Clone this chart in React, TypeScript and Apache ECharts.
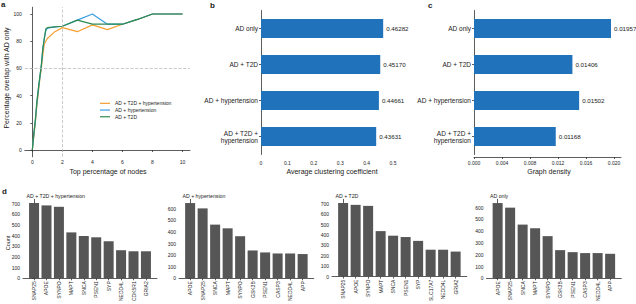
import React, { useEffect, useRef } from "react";
import * as echarts from "echarts";

// ---- Panel a data ----
const topPct = [0, 0.1, 0.2, 0.3, 0.4, 0.5, 0.6, 0.7, 0.8, 0.9, 1, 1.5, 2, 3, 4, 5, 6, 7, 8, 9, 10];
const overlapT2dHyp = [0, 10, 20, 32, 42, 52, 60, 70, 78, 80, 82, 87, 90, 87, 92, 88.5, 92.5, 96, 100, 100, 100];
const overlapHyp = [0, 11, 21, 34, 44, 53, 62, 74, 82, 88, 89.5, 90.5, 91, 95.5, 100, 92.5, 92.5, 96, 100, 100, 100];
const overlapT2d = [0, 12, 22, 35, 45, 54, 62, 75, 82, 89, 90, 90.5, 91, 95.5, 92.5, 92.5, 92.5, 96, 100, 100, 100];
const seriesNamesA = ["AD + T2D + hypertension", "AD + hypertension", "AD + T2D"];
const xTicksA = [0, 2, 4, 6, 8, 10];
const yTicksA = [0, 20, 40, 60, 80, 100];

// ---- Panels b, c ----
const conditions = ["AD only", "AD + T2D", "AD + hypertension", "AD + T2D +\nhypertension"];
const clustering = [0.46282, 0.4517, 0.44661, 0.43631];
const density = [0.01957, 0.01406, 0.01502, 0.01168];
const densityTicks = [0, 0.004, 0.008, 0.012, 0.016, 0.02];

// ---- Panel d ----
const dTitles = ["AD + T2D + hypertension", "AD + hypertension", "AD + T2D", "AD only"];
const genesD1 = ["SNAP25", "APOE", "SYNPO", "MAPT", "SNCA", "PSEN1", "SYP", "NEDD4L", "CDK5R1", "GRIA2"];
const countsD1 = [705, 683, 670, 430, 396, 384, 347, 263, 253, 253];
const genesD2 = ["APOE", "SNAP25", "SNCA", "MAPT", "SYNPO", "GSK3B", "PSEN1", "CASP3", "NEDD4L", "APP"];
const countsD2 = [649, 603, 463, 431, 363, 240, 223, 214, 214, 209];
const genesD3 = ["SNAP25", "APOE", "SYNPO", "MAPT", "SNCA", "PSEN1", "SYP", "SLC17A7", "NEDD4L", "GRIA2"];
const countsD3 = [709, 691, 681, 438, 394, 381, 344, 259, 259, 241];
const genesD4 = ["APOE", "SNAP25", "SNCA", "MAPT", "SYNPO", "GSK3B", "PSEN1", "CASP3", "NEDD4L", "APP"];
const countsD4 = [639, 600, 456, 425, 358, 239, 222, 214, 214, 208];

const FONT = "Liberation Sans, Arial, sans-serif";
const TXT = "#222";
const AXC = "#333";
const BLUE = "#2072bb";
const GREY = "#565656";
const LINE_COLORS = ["#f5a031", "#3a9ee6", "#2e8b50"];

function txt(text: string, x: number, y: number, size: number, opts: any = {}) {
  return {
    type: "text",
    x,
    y,
    rotation: opts.rotation || 0,
    silent: true,
    style: {
      text,
      fill: TXT,
      fontSize: size,
      fontFamily: FONT,
      fontWeight: opts.bold ? "bold" : "normal",
      align: opts.align || "center",
      verticalAlign: opts.valign || "middle",
    },
  };
}

export default function App() {
  const ref = useRef<HTMLDivElement>(null);
  useEffect(() => {
    if (!ref.current) return;
    const chart = echarts.init(ref.current, null, { renderer: "svg" });

    const dPanels = [
      { left: 23, width: 134, genes: genesD1, counts: countsD1 },
      { left: 179, width: 134.75, genes: genesD2, counts: countsD2 },
      { left: 332, width: 134.75, genes: genesD3, counts: countsD3 },
      { left: 486.5, width: 134.75, genes: genesD4, counts: countsD4 },
    ];

    const grids: any[] = [
      { left: 24.8, top: 7.2, width: 165.2, height: 149.6 },
      { left: 261, top: 10.5, width: 132, height: 144 },
      { left: 474, top: 10.5, width: 147, height: 144 },
      ...dPanels.map((p) => ({ left: p.left, top: 199.3, width: p.width, height: 80 })),
    ];

    const lineAx = { show: true, lineStyle: { color: AXC, width: 0.8 } };
    const tickAx = { show: true, length: 2, lineStyle: { color: AXC, width: 0.8 } };
    const labelBase = { color: TXT, fontFamily: FONT };

    const xAxes: any[] = [
      {
        type: "value", gridIndex: 0, min: -0.5, max: 10.5,
        axisLine: lineAx,
        axisTick: { ...tickAx, customValues: xTicksA },
        axisLabel: { ...labelBase, fontSize: 5, margin: 3, customValues: xTicksA },
        splitLine: { show: false },
      },
      {
        type: "value", gridIndex: 1, min: 0, max: 0.5, interval: 0.1,
        axisLine: { show: false },
        axisTick: { show: false },
        axisLabel: { ...labelBase, fontSize: 5, margin: 6, formatter: (v: number) => (v === 0 ? "0" : v.toFixed(1)) },
        splitLine: { show: false },
      },
      {
        type: "value", gridIndex: 2, min: 0, max: 0.021, offset: 2.5,
        axisLine: lineAx,
        axisTick: { ...tickAx, customValues: densityTicks },
        axisLabel: { ...labelBase, fontSize: 5, margin: 3, customValues: densityTicks, formatter: (v: number) => v.toFixed(3) },
        splitLine: { show: false },
      },
      ...dPanels.map((p, i) => ({
        type: "value", gridIndex: 3 + i, min: -0.89, max: 9.89,
        axisLine: lineAx,
        axisTick: { ...tickAx, customValues: p.genes.map((_, k) => k) },
        axisLabel: {
          ...labelBase, fontSize: 5, margin: 3, rotate: 90,
          customValues: p.genes.map((_, k) => k),
          formatter: (v: number) => p.genes[Math.round(v)] ?? "",
        },
        splitLine: { show: false },
      })),
    ];

    const yAxes: any[] = [
      {
        type: "value", gridIndex: 0, min: -5, max: 105,
        axisLine: lineAx,
        axisTick: { ...tickAx, customValues: yTicksA },
        axisLabel: { ...labelBase, fontSize: 5, margin: 3, customValues: yTicksA },
        splitLine: { show: false },
      },
      {
        type: "category", gridIndex: 1, data: conditions, inverse: true,
        axisLine: lineAx, axisTick: { ...tickAx, alignWithLabel: true },
        axisLabel: { ...labelBase, fontSize: 6.5, margin: 3, lineHeight: 7 },
      },
      {
        type: "category", gridIndex: 2, data: conditions, inverse: true,
        axisLine: lineAx, axisTick: { ...tickAx, alignWithLabel: true },
        axisLabel: { ...labelBase, fontSize: 6.5, margin: 3, lineHeight: 7 },
      },
      ...dPanels.map((p, i) => {
        const mx = Math.max(...p.counts) * 1.05;
        const ticks: number[] = [];
        for (let t = 0; t <= mx; t += 100) ticks.push(t);
        return {
          type: "value", gridIndex: 3 + i, min: 0, max: mx,
          axisLine: lineAx,
          axisTick: { ...tickAx, customValues: ticks },
          axisLabel: { ...labelBase, fontSize: 5, margin: 3, customValues: ticks },
          splitLine: { show: false },
        };
      }),
    ];

    const lineSeries = [overlapT2dHyp, overlapHyp, overlapT2d].map((vals, i) => ({
      type: "line",
      name: seriesNamesA[i],
      xAxisIndex: 0, yAxisIndex: 0,
      data: topPct.map((x, k) => [x, vals[k]]),
      symbol: "none",
      lineStyle: { width: 1.2, color: LINE_COLORS[i] },
      itemStyle: { color: LINE_COLORS[i] },
      ...(i === 0
        ? {
            markLine: {
              silent: true, symbol: "none", label: { show: false },
              lineStyle: { type: "dashed", color: "#bdbdbd", width: 0.8 },
              data: [{ xAxis: 2 }, { yAxis: 60 }],
            },
          }
        : {}),
      z: 2 + i,
    }));

    const barLabel = (digits: number) => ({
      show: true, position: "right", distance: 3, color: TXT, fontSize: 6.2, fontFamily: FONT,
      formatter: (p: any) => Number(p.value).toFixed(digits),
    });

    const series: any[] = [
      ...lineSeries,
      {
        type: "bar", xAxisIndex: 1, yAxisIndex: 1, data: clustering, barWidth: 19,
        itemStyle: { color: BLUE }, label: barLabel(5),
      },
      {
        type: "bar", xAxisIndex: 2, yAxisIndex: 2, data: density, barWidth: 19,
        itemStyle: { color: BLUE }, label: barLabel(5),
      },
      ...dPanels.map((p, i) => ({
        type: "bar", xAxisIndex: 3 + i, yAxisIndex: 3 + i,
        data: p.counts.map((v, k) => [k, v]), barWidth: 10,
        itemStyle: { color: GREY },
      })),
    ];

    const graphic: any[] = [
      txt("a", 1, 4, 8, { bold: true, align: "left" }),
      txt("b", 210, 5, 8, { bold: true, align: "left" }),
      txt("c", 428, 5, 8, { bold: true, align: "left" }),
      txt("d", 2, 191, 8, { bold: true, align: "left" }),
      txt("Percentage overlap with AD only", 6, 78, 7, { rotation: Math.PI / 2 }),
      txt("Top percentage of nodes", 108, 171.5, 7),
      txt("Average clustering coefficient", 332, 171, 7),
      txt("Graph density", 549, 171, 7),
      txt("Count", 7.5, 243, 5.5, { rotation: Math.PI / 2 }),
      ...dPanels.map((p, i) => txt(dTitles[i], p.left + 3.5, 195.5, 5.2, { align: "left" })),
    ];

    chart.setOption({
      animation: false,
      backgroundColor: "#fff",
      textStyle: { fontFamily: FONT },
      grid: grids,
      xAxis: xAxes,
      yAxis: yAxes,
      series,
      graphic,
      legend: {
        data: seriesNamesA.map((n) => ({ name: n, icon: "rect" })),
        orient: "vertical",
        left: 100, top: 100,
        itemWidth: 10, itemHeight: 1.2, itemGap: 0,
        selectedMode: false,
        textStyle: { color: TXT, fontSize: 5, fontFamily: FONT, lineHeight: 6.7 },
        padding: 0,
      },
    });
    return () => chart.dispose();
  }, []);

  return (
    <div
      ref={ref}
      style={{ position: "fixed", left: 0, top: 0, width: 636, height: 304, background: "#fff" }}
    />
  );
}
